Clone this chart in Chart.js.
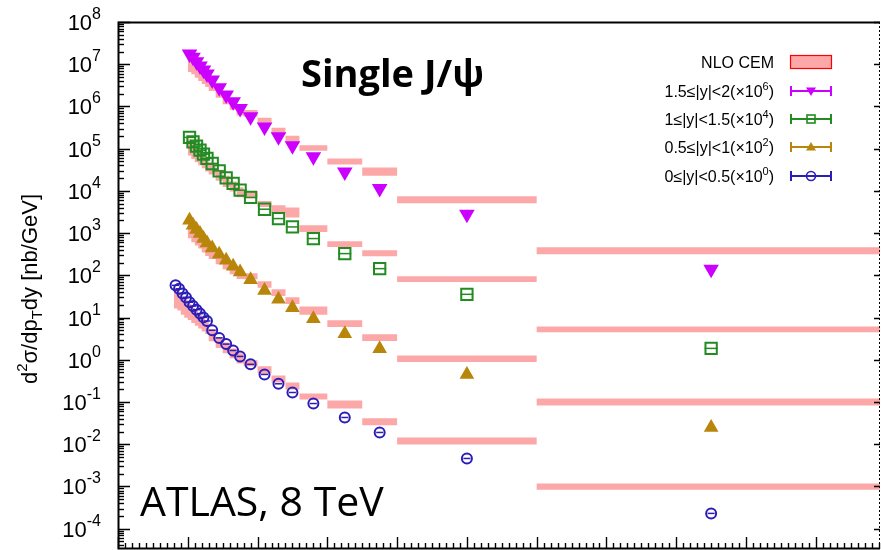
<!DOCTYPE html>
<html>
<head>
<meta charset="utf-8">
<title>Single J/psi, ATLAS 8 TeV</title>
<script src="https://cdn.jsdelivr.net/npm/chart.js@4.4.1/dist/chart.umd.min.js"></script>
<style>
  html, body { margin: 0; padding: 0; background: #fff; }
  #wrap { width: 881px; height: 550px; }
</style>
</head>
<body>
<div id="wrap"><canvas id="xsecChart" width="881" height="550"></canvas></div>
<script>
/* ============================================
   Single J/psi cross-section vs pT, ATLAS 8 TeV
   data points + NLO CEM bands, four rapidity slices
   ============================================ */

// pT bin edges [GeV] and bin centres
const PT_EDGES = [8, 8.5, 9, 9.5, 10, 10.5, 11, 11.5, 12, 12.5, 13, 14, 15, 16, 17, 18, 20, 22, 24, 26, 30, 35, 40, 60, 110];
const PT_CENTRES = [8.25, 8.75, 9.25, 9.75, 10.25, 10.75, 11.25, 11.75, 12.25, 12.75, 13.5, 14.5, 15.5, 16.5, 17.5, 19, 21, 23, 25, 28, 32.5, 37.5, 50, 85];

// 0 <= |y| < 0.5 (x10^0), starts at 8 GeV
const Y0_DATA = [58, 48, 37, 30, 23, 18.7, 15.4, 12.4, 10.1, 8.3, 5.0, 3.3, 2.35, 1.66, 1.2, 0.78, 0.45, 0.27, 0.168, 0.092, 0.043, 0.019, 0.0046, 0.00023];
const Y0_CEM_HI = [49, 41, 31, 26.5, 20.9, 16.8, 14.6, 11.7, 10.1, 8.3, 5.3, 3.44, 2.58, 1.86, 1.42, 0.97, 0.70, 0.425, 0.29, 0.159, 0.109, 0.041, 0.0144, 0.00117];
const Y0_CEM_LO = [16.5, 14.6, 11.7, 9.9, 8.7, 7.4, 6.4, 5.5, 4.7, 4.1, 2.75, 1.89, 1.42, 1.08, 0.82, 0.70, 0.475, 0.29, 0.198, 0.115, 0.070, 0.028, 0.0098, 0.00084];

// 0.5 <= |y| < 1 (x10^2), starts at 10 GeV
const Y1_DATA = [2020, 1535, 1213, 975, 743, 583, 445, 315, 227, 164, 120, 79, 44, 27, 17.1, 9.4, 4.15, 1.83, 0.45, 0.0249];
const Y1_CEM_HI = [1808, 1377, 1148, 925, 743, 583, 470, 333, 253, 182, 141, 112, 72, 46.7, 30.1, 18.4, 8.6, 4.0, 1.27, 0.121];
const Y1_CEM_LO = [755, 607, 507, 430, 346, 287, 244, 182, 139, 106, 82, 80.5, 51, 32.3, 20.9, 11.7, 5.95, 2.77, 0.88, 0.083];

// 1 <= |y| < 1.5 (x10^4), starts at 10 GeV
const Y2_DATA = [1.85e5, 1.45e5, 1.15e5, 9.2e4, 7.4e4, 5.9e4, 4.45e4, 2.98e4, 2.03e4, 1.5e4, 1.04e4, 7.0e3, 3.68e3, 2.21e3, 1.40e3, 743, 327, 144, 35.5, 1.86];
const Y2_CEM_HI = [1.66e5, 1.30e5, 1.09e5, 8.7e4, 7.4e4, 5.86e4, 4.71e4, 3.15e4, 2.27e4, 1.67e4, 1.22e4, 9.8e3, 5.8e3, 4.57e3, 4.04e3, 1.53e3, 641, 392, 94.8, 6.18];
const Y2_CEM_LO = [6.9e4, 5.73e4, 4.79e4, 4.06e4, 3.45e4, 2.88e4, 2.44e4, 1.73e4, 1.24e4, 9.7e3, 7.1e3, 6.7e3, 4.17e3, 3.0e3, 2.34e3, 1.06e3, 470, 282, 69.5, 4.46];

// 1.5 <= |y| < 2 (x10^6), starts at 10 GeV
const Y3_DATA = [1.74e7, 1.46e7, 1.15e7, 9.06e6, 7.28e6, 5.85e6, 4.22e6, 2.77e6, 1.86e6, 1.29e6, 8.97e5, 5.68e5, 3.24e5, 1.91e5, 1.18e5, 6.4e4, 2.82e4, 1.14e4, 2.8e3, 139];
const Y3_CEM_HI = [1.56e7, 1.30e7, 1.08e7, 8.57e6, 7.28e6, 5.85e6, 4.45e6, 2.92e6, 2.07e6, 1.44e6, 1.06e6, 8.2e5, 5.38e5, 3.11e5, 2.01e5, 1.21e5, 5.86e4, 3.58e4, 7.48e3, 461];
const Y3_CEM_LO = [6.52e6, 5.75e6, 4.78e6, 3.99e6, 3.39e6, 2.88e6, 2.31e6, 1.60e6, 1.13e6, 8.3e5, 6.14e5, 5.68e5, 3.81e5, 2.21e5, 1.45e5, 8.87e4, 4.23e4, 2.27e4, 5.1e3, 315];

// legend / axis text
const SERIES_LABELS = ["1.5≤|y|<2", "1≤|y|<1.5", "0.5≤|y|<1", "0≤|y|<0.5"];
const SERIES_SCALES = ["6", "4", "2", "0"];
const Y_TICK_EXPONENTS = [8, 7, 6, 5, 4, 3, 2, 1, 0, -1, -2, -3, -4];
const X_MAJOR_TICKS = [0, 10, 20, 30, 40, 50, 60, 70, 80, 90, 100];

const BAND_COLOR = "#fca8a8";
const FONT = "'Liberation Sans', Arial, sans-serif";

// series styling, top legend row first
const SERIES = [
  { data: Y3_DATA, hi: Y3_CEM_HI, lo: Y3_CEM_LO, first: 4, color: "#cc00ff", style: "triangle", rot: 180, r: 7, filled: true, bar: false },
  { data: Y2_DATA, hi: Y2_CEM_HI, lo: Y2_CEM_LO, first: 4, color: "#228b22", style: "rect", rot: 0, r: 8, filled: false, bar: true },
  { data: Y1_DATA, hi: Y1_CEM_HI, lo: Y1_CEM_LO, first: 4, color: "#b8860b", style: "triangle", rot: 0, r: 6.5, filled: true, bar: false },
  { data: Y0_DATA, hi: Y0_CEM_HI, lo: Y0_CEM_LO, first: 0, color: "#2b1db8", style: "circle", rot: 0, r: 5, filled: false, bar: true },
];

/**
 * Band edge as a histogram outline: each bin contributes its low and high edge.
 */
function bandPoints(values, first) {
  const pts = [];
  values.forEach((v, i) => {
    pts.push({ x: PT_EDGES[first + i], y: v });
    pts.push({ x: PT_EDGES[first + i + 1], y: v });
  });
  return pts;
}

function dataPoints(values, first) {
  return values.map((v, i) => ({ x: PT_CENTRES[first + i], y: v }));
}

function buildDatasets() {
  const sets = [];
  SERIES.forEach((s) => {
    sets.push({
      type: "line",
      data: dataPoints(s.data, s.first),
      showLine: false,
      pointStyle: s.style,
      rotation: s.rot,
      pointRadius: s.r,
      pointBorderWidth: 2,
      pointBorderColor: s.color,
      pointBackgroundColor: s.filled ? s.color : "transparent",
      order: 0,
    });
    if (s.bar) {
      sets.push({
        type: "line",
        data: dataPoints(s.data, s.first),
        showLine: false,
        pointStyle: "line",
        pointRadius: s.r - 1.5,
        pointBorderWidth: 1.5,
        pointBorderColor: s.color,
        order: 0,
      });
    }
  });
  SERIES.forEach((s) => {
    sets.push({
      type: "line",
      data: bandPoints(s.hi, s.first),
      borderColor: "transparent",
      borderWidth: 0,
      pointRadius: 0,
      tension: 0,
      backgroundColor: BAND_COLOR,
      fill: "+1",
      order: 5,
    });
    sets.push({
      type: "line",
      data: bandPoints(s.lo, s.first),
      borderColor: "transparent",
      borderWidth: 0,
      pointRadius: 0,
      tension: 0,
      fill: false,
      order: 5,
    });
  });
  return sets;
}

/**
 * Draw text runs with super/subscripts. parts: [text, size, dy]
 */
function richWidth(ctx, parts) {
  let w = 0;
  parts.forEach(([t, size]) => {
    ctx.font = `${size}px ${FONT}`;
    w += ctx.measureText(t).width;
  });
  return w;
}

function drawRich(ctx, parts, x, y, align) {
  const w = richWidth(ctx, parts);
  let cx = align === "right" ? x - w : align === "center" ? x - w / 2 : x;
  ctx.textAlign = "left";
  ctx.textBaseline = "alphabetic";
  parts.forEach(([t, size, dy]) => {
    ctx.font = `${size}px ${FONT}`;
    ctx.fillText(t, cx, y + (dy || 0));
    cx += ctx.measureText(t).width;
  });
}

function drawMarker(ctx, s, x, y) {
  ctx.save();
  ctx.strokeStyle = s.color;
  ctx.fillStyle = s.color;
  ctx.lineWidth = 1.6;
  ctx.beginPath();
  if (s.style === "circle") {
    ctx.arc(x, y, 4.5, 0, Math.PI * 2);
    ctx.stroke();
  } else if (s.style === "rect") {
    ctx.strokeRect(x - 4, y - 4, 8, 8);
  } else {
    const d = s.rot === 180 ? -1 : 1;
    ctx.moveTo(x, y - 5 * d);
    ctx.lineTo(x - 5, y + 3.5 * d);
    ctx.lineTo(x + 5, y + 3.5 * d);
    ctx.closePath();
    ctx.fill();
  }
  ctx.restore();
}

/**
 * Frame, inward ticks, tick labels, axis title, legend and annotations.
 */
const decorPlugin = {
  id: "decor",
  afterDraw(chart) {
    const { ctx, chartArea: a } = chart;
    const xs = chart.scales.x;
    const ys = chart.scales.y;
    ctx.save();
    ctx.strokeStyle = "#000";
    ctx.fillStyle = "#000";

    // frame
    ctx.lineWidth = 2;
    ctx.beginPath();
    ctx.moveTo(a.right, a.top + 0.5);
    ctx.lineTo(a.left + 0.5, a.top + 0.5);
    ctx.lineTo(a.left + 0.5, a.bottom - 0.5);
    ctx.lineTo(a.right, a.bottom - 0.5);
    ctx.stroke();
    ctx.lineWidth = 1;
    ctx.setLineDash([2, 2]);
    ctx.beginPath();
    ctx.moveTo(a.right - 0.5, a.top);
    ctx.lineTo(a.right - 0.5, a.bottom);
    ctx.stroke();
    ctx.setLineDash([]);

    // y ticks (log, inward)
    ctx.lineWidth = 1.4;
    for (let e = -5; e <= 8; e++) {
      for (let m = 1; m <= 9; m++) {
        const v = m * Math.pow(10, e);
        if (v < ys.min || v > ys.max) continue;
        const py = Math.round(ys.getPixelForValue(v)) + 0.5;
        const len = m === 1 ? 12 : 6;
        ctx.beginPath();
        ctx.moveTo(a.left, py);
        ctx.lineTo(a.left + len, py);
        if (m === 1) {
          ctx.moveTo(a.right, py);
          ctx.lineTo(a.right - 6, py);
        }
        ctx.stroke();
      }
    }

    // x ticks (inward from bottom)
    for (let v = 0; v <= xs.max; v += 1) {
      const px = Math.round(xs.getPixelForValue(v)) + 0.5;
      const len = X_MAJOR_TICKS.includes(v) ? 12 : 6;
      ctx.beginPath();
      ctx.moveTo(px, a.bottom);
      ctx.lineTo(px, a.bottom - len);
      ctx.stroke();
    }

    // y tick labels 10^n
    Y_TICK_EXPONENTS.forEach((e) => {
      const py = ys.getPixelForValue(Math.pow(10, e));
      drawRich(ctx, [["10", 22, 0], [String(e), 16, -11]], 101, py + 8, "right");
    });

    // y axis title (rotated)
    ctx.save();
    ctx.translate(37, 289);
    ctx.rotate(-Math.PI / 2);
    drawRich(ctx, [
      ["d", 22, 0], ["2", 15, -10], ["σ/dp", 22, 0], ["T", 15, 5], ["dy [nb/GeV]", 22, 0],
    ], 0, 0, "center");
    ctx.restore();

    // annotations
    ctx.textAlign = "left";
    ctx.textBaseline = "alphabetic";
    ctx.font = "bold 38px 'Open Sans', sans-serif";
    ctx.fillText("Single J/ψ", 301, 87);
    ctx.font = "41px 'Open Sans', sans-serif";
    ctx.fillText("ATLAS, 8 TeV", 140, 516);

    // legend
    const textRight = 774, symL = 790, symR = 832, symC = 811;
    const rowY = [62, 91, 119, 147, 176];
    drawRich(ctx, [["NLO CEM", 16, 0]], textRight, rowY[0] + 6, "right");
    ctx.fillStyle = BAND_COLOR;
    ctx.fillRect(symL, rowY[0] - 7, symR - symL, 14);
    ctx.strokeStyle = "#ff0000";
    ctx.lineWidth = 1.2;
    ctx.strokeRect(symL + 0.5, rowY[0] - 6.5, symR - symL - 1, 13);
    SERIES.forEach((s, i) => {
      const ry = rowY[i + 1];
      ctx.fillStyle = "#000";
      drawRich(ctx, [
        [SERIES_LABELS[i] + "(×10", 16, 0], [SERIES_SCALES[i], 11, -7], [")", 16, 0],
      ], textRight, ry + 6, "right");
      ctx.strokeStyle = s.color;
      ctx.lineWidth = 2;
      ctx.beginPath();
      ctx.moveTo(symL, ry); ctx.lineTo(symR, ry);
      ctx.moveTo(symL + 1, ry - 5); ctx.lineTo(symL + 1, ry + 5);
      ctx.moveTo(symR - 1, ry - 5); ctx.lineTo(symR - 1, ry + 5);
      ctx.stroke();
      drawMarker(ctx, s, symC, ry);
    });
    ctx.restore();
  },
};

function initChart() {
  const ctx = document.getElementById("xsecChart");
  if (!ctx) return;

  new Chart(ctx, {
    type: "line",
    data: { datasets: buildDatasets() },
    options: {
      responsive: false,
      animation: false,
      layout: { autoPadding: false, padding: { left: 118, top: 22, right: 1, bottom: 1 } },
      plugins: {
        legend: { display: false },
        tooltip: { enabled: false },
      },
      scales: {
        x: { type: "linear", min: 0, max: 109.2, display: false },
        y: { type: "logarithmic", min: 3.3e-5, max: 1e8, display: false },
      },
    },
    plugins: [decorPlugin],
  });
}

initChart();
</script>
</body>
</html>
